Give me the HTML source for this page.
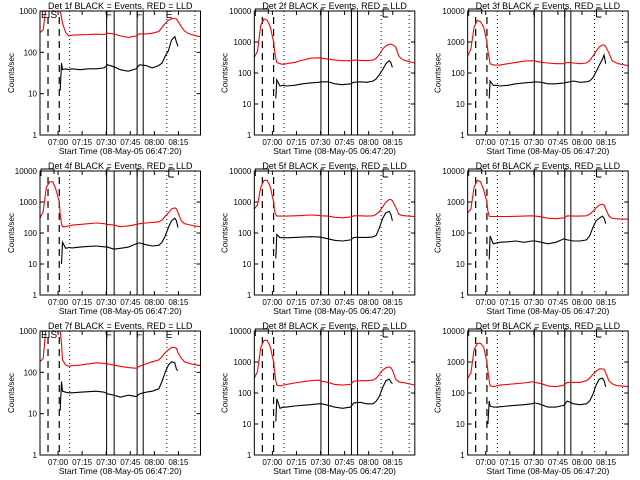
<!DOCTYPE html>
<html><head><meta charset="utf-8"><style>
html,body{margin:0;padding:0;background:#fff}
svg{display:block}
text{font-family:"Liberation Sans",sans-serif;fill:#000}
</style></head><body>
<svg id="chart" width="640" height="480" viewBox="0 0 640 480"></svg>
<script>
// Shared time grid (minutes after 06:48:45)
const times=[0,2,4,6,8,10,12,12.6,13.4,14,16,18,20,25,30,35,40,42,46,50,55,60,62,66,70,74,76,78,80,82,84,85,86,88,90,92,94,96,98,100];
const detectorLabels=["1f","2f","3f","4f","5f","6f","7f","8f","9f"];
const yMaxes=[1000,10000,10000,10000,10000,10000,1000,10000,10000];
const xTickLabels=["07:00","07:15","07:30","07:45","08:00","08:15"];
const xTickMinutes=[11.25,26.25,41.25,56.25,71.25,86.25];
const dashedTimes=[5,12];
const dottedTimes=[18.5,79,96.5];
const solidTimes=[41.5,46.2,60.5,64.3];
const n=null;
const red1=[300,350,1500,3000,4000,3000,1500,1000,700,500,300,250,260,265,270,275,270,290,280,250,230,250,280,280,290,320,400,500,600,650,660,640,560,420,330,290,270,260,245,240];
const black1=[n,n,n,n,n,n,n,12,55,38,40,38,40,38,40,40,42,50,45,38,35,40,50,48,42,48,55,80,110,200,240,180,140];
const red2=[320,500,3500,5500,5000,3000,1000,500,300,220,200,190,200,220,260,300,310,300,280,260,250,250,260,255,250,260,300,400,600,750,850,850,820,700,350,280,250,240,220,210];
const black2=[n,n,n,n,n,n,n,n,15,60,38,40,38,40,45,48,50,52,52,45,42,45,50,52,50,55,65,90,130,200,250,220,150];
const red3=[350,600,3000,5000,4500,3000,1000,500,300,200,180,180,180,200,220,240,250,240,220,210,200,200,220,210,200,210,250,350,500,700,800,800,700,450,250,220,200,190,180,175];
const black3=[n,n,n,n,n,n,n,n,15,55,40,40,38,40,45,48,50,52,50,45,45,48,50,55,50,52,55,70,110,180,280,380,200];
const red4=[300,500,3000,4500,4500,2500,1000,400,200,160,160,170,180,190,200,210,200,190,180,160,170,190,200,210,220,230,260,350,450,600,650,600,450,250,200,190,180,170,165,160];
const black4=[n,n,n,n,n,n,n,n,10,50,32,34,33,35,37,38,36,35,30,32,35,45,48,42,38,40,50,80,150,250,300,250,150];
const red5=[600,800,3000,5000,5000,3000,1000,500,400,350,350,350,350,360,370,380,370,360,350,320,310,330,360,360,350,360,400,500,700,1000,1200,1200,1100,700,400,370,360,350,345,340];
const black5=[n,n,n,n,n,n,n,n,15,90,70,72,70,72,74,76,75,72,65,58,55,60,72,72,72,75,85,150,300,450,500,400,250];
const red6=[450,600,3000,5000,4500,2500,1000,500,350,340,340,340,340,340,345,350,360,350,330,300,290,310,360,350,350,360,400,500,650,800,850,800,600,350,300,290,285,280,280,280];
const black6=[n,n,n,n,n,n,n,n,14,80,45,48,50,52,55,50,55,55,50,45,50,65,60,55,55,60,80,150,250,300,350,300,200];
const red7=[180,220,1500,3000,4000,3000,1500,1000,500,200,150,140,145,150,160,170,165,160,150,140,130,125,140,160,180,200,240,300,350,400,400,380,300,220,180,170,160,155,150,145];
const black7=[n,n,n,n,n,n,n,12,60,35,33,32,32,33,34,35,33,30,28,25,28,26,30,33,35,40,60,100,150,180,170,120,110];
const red8=[300,500,3000,5000,5000,3000,1000,500,250,180,170,180,190,210,230,250,260,240,220,190,180,190,240,250,250,260,300,400,550,650,700,650,550,280,230,220,210,200,190,180];
const black8=[n,n,n,n,n,n,n,n,12,65,32,35,35,38,40,42,45,45,40,35,32,35,48,50,45,45,55,80,150,250,280,230,200];
const red9=[300,450,2500,4000,4000,3000,1000,500,250,170,160,170,180,190,200,210,230,220,200,170,160,180,220,220,220,250,300,400,500,600,600,580,450,250,200,180,170,170,165,160];
const black9=[n,n,n,n,n,n,n,10,55,38,35,35,36,38,40,42,45,48,42,35,35,40,55,45,42,45,55,90,180,280,300,250,160];
const reds=[red1,red2,red3,red4,red5,red6,red7,red8,red9];
const blacks=[black1,black2,black3,black4,black5,black6,black7,black8,black9];

const NS="http://www.w3.org/2000/svg";
const svg=document.getElementById('chart');
function mk(tag,attrs,parent){const e=document.createElementNS(NS,tag);for(const k in attrs)e.setAttribute(k,attrs[k]);(parent||svg).appendChild(e);return e;}

for(let p=0;p<9;p++){
  const col=p%3,row=Math.floor(p/3);
  const L=(col===0?40:col*213.33+41),R=L+160.5,T=row*160+11,B=row*160+135;
  const yMax=yMaxes[p];
  const decades=Math.log10(yMax);
  const xs=t=>L+(t/100)*(R-L);
  const ys=v=>B-(Math.log10(v)/decades)*(B-T);
  const g=mk('g',{});
  
  
  const cid='clip'+p;
  const cp=mk('clipPath',{id:cid},g);mk('rect',{x:L,y:T,width:R-L,height:B-T},cp);
  const title=mk('text',{x:(L+R)/2,y:row*160+9,'text-anchor':'middle','font-size':'9'},g);
  title.textContent='Det '+detectorLabels[p]+' BLACK = Events, RED = LLD';
  
  
  for(let d=0;d<=decades;d++){
    const v=Math.pow(10,d),y=ys(v);
    mk('line',{x1:L,x2:L+4,y1:y,y2:y,stroke:'#000','stroke-width':1},g);
    mk('line',{x1:R,x2:R-4,y1:y,y2:y,stroke:'#000','stroke-width':1},g);
    const tl=mk('text',{x:L-3,y:y+3,'text-anchor':'end','font-size':'8'},g);
    tl.textContent=String(v);
    
    
  }
  for(let i=0;i<xTickMinutes.length;i++){
    const x=xs(xTickMinutes[i]);
    mk('line',{x1:x,x2:x,y1:B,y2:B-4,stroke:'#000','stroke-width':1},g);
    mk('line',{x1:x,x2:x,y1:T,y2:T+4,stroke:'#000','stroke-width':1},g);
    const tl=mk('text',{x:x,y:B+10,'text-anchor':'middle','font-size':'8'},g);
    tl.textContent=xTickLabels[i];
    
    
  }
  const xl=mk('text',{x:(L+R)/2,y:B+19,'text-anchor':'middle','font-size':'8.5'},g);
  xl.textContent='Start Time (08-May-05 06:47:20)';
  
  
  const yl=mk('text',{x:0,y:0,'text-anchor':'middle','font-size':'8',transform:'translate('+(col*213.33+14)+','+((T+B)/2)+') rotate(-90)'},g);
  yl.textContent='Counts/sec';
  
  
  dashedTimes.forEach(t=>{const l=mk('line',{x1:xs(t),x2:xs(t),y1:T+6,y2:B,stroke:'#000','stroke-width':1.2,'stroke-dasharray':'7,5'},g);
    });
  dottedTimes.forEach(t=>{const l=mk('line',{x1:xs(t),x2:xs(t),y1:T,y2:B,stroke:'#000','stroke-width':1,'stroke-dasharray':'1,3'},g);
    });
  solidTimes.forEach(t=>{const l=mk('line',{x1:xs(t),x2:xs(t),y1:T,y2:B,stroke:'#000','stroke-width':1},g);
    });
  const cg=mk('g',{'clip-path':'url(#'+cid+')'},g);
  [[reds[p],'#ff0000','red-lld-line'],[blacks[p],'#000','black-events-line']].forEach(([arr,color,name])=>{
    let d='',pen=false;
    for(let i=0;i<times.length;i++){
      const v=arr[i];
      if(v==null||v===undefined){pen=false;continue;}
      d+=(pen?'L':'M')+xs(times[i]).toFixed(1)+','+ys(v).toFixed(1);pen=true;
    }
    const path=mk('path',{d:d,fill:'none',stroke:color,'stroke-width':1.1},cg);
    
    
  });
  if(yMax===1000){
    [['EIS',L+1],['F',xs(solidTimes[0])-1],['F',xs(solidTimes[2])-1],['E',xs(dottedTimes[1])-1]].forEach(([s,x])=>{
      const t=mk('text',{x:x,y:T+7,'font-size':'10'},g);t.textContent=s;
      });
  } else {
    const pth='M'+(L+1)+','+(T+5)+'V'+(T-2)+'H'+(L+14)+'V'+(T+3)+
      'M'+(xs(solidTimes[0]))+','+(T+6)+'V'+(T-2)+'H'+(xs(solidTimes[0])+3)+
      'M'+(xs(solidTimes[2]))+','+(T+6)+'V'+(T-2)+'H'+(xs(solidTimes[2])+3)+
      'M'+(xs(dottedTimes[1])+2)+','+(T+6)+'V'+(T-2)+'H'+(xs(dottedTimes[1])+8)+'M'+(xs(dottedTimes[1])+2)+','+(T+6)+'H'+(xs(dottedTimes[1])+7);
    const mp=mk('path',{d:pth,fill:'none',stroke:'#000','stroke-width':1},g);
    
  }
  const box=mk('rect',{x:L,y:T,width:R-L,height:B-T,fill:'none',stroke:'#000','stroke-width':1},g);
  
  
}
</script>
</body></html>
